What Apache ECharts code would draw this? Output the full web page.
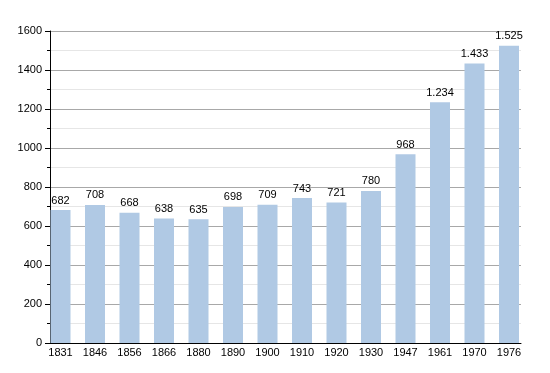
<!DOCTYPE html>
<html>
<head>
<meta charset="utf-8">
<script src="https://cdn.jsdelivr.net/npm/echarts@6/dist/echarts.min.js"></script>
<style>html,body{margin:0;padding:0;background:#fff}#c{width:550px;height:373px}</style>
</head>
<body>
<div id="c"></div>
<script>
var years = ['1831','1846','1856','1866','1880','1890','1900','1910','1920','1930','1947','1961','1970','1976'];
var population = [682,708,668,638,635,698,709,743,721,780,968,1234,1433,1525];

function fmt(v){ return String(v).replace(/\B(?=(\d{3})+(?!\d))/g,'.'); }

var chart = echarts.init(document.getElementById('c'), null, {renderer:'canvas'});
var font = 'Liberation Sans, Arial, sans-serif';
chart.setOption({
  animation:false,
  backgroundColor:'#fff',
  grid:[
    {left:50, right:29, top:31, bottom:30},
    {left:43.25, right:23.75, top:31, bottom:30}
  ],
  xAxis:[
    {type:'category', gridIndex:0, data:years, axisLabel:{show:false}, axisTick:{show:false},
     axisLine:{show:true, lineStyle:{color:'#000', width:1}}, splitLine:{show:false}},
    {type:'category', gridIndex:1, data:years, axisLine:{show:false}, axisTick:{show:false},
     axisLabel:{color:'#000', fontFamily:font, fontSize:11, margin:4}}
  ],
  yAxis:[
    {type:'value', gridIndex:0, min:0, max:1600, interval:200,
     axisLine:{show:true, lineStyle:{color:'#000'}},
     axisTick:{show:true, length:5, lineStyle:{color:'#000'}},
     minorTick:{show:true, splitNumber:2, length:3, lineStyle:{color:'#000'}},
     splitLine:{show:true, lineStyle:{color:'#a8a8a8', width:1}},
     minorSplitLine:{show:true, lineStyle:{color:'#e6e6e6', width:1}},
     axisLabel:{color:'#000', fontFamily:font, fontSize:11, margin:8,
       formatter:function(v){return String(v);}}},
    {type:'value', gridIndex:1, min:0, max:1600, interval:200, show:false, splitLine:{show:false}}
  ],
  series:[{
    type:'bar', xAxisIndex:1, yAxisIndex:1, data:population, barWidth:20,
    itemStyle:{color:'#b0c9e4'},
    label:{show:true, position:'top', distance:4, color:'#000', fontFamily:font, fontSize:11,
      formatter:function(p){return fmt(p.value);}}
  }]
});
</script>
</body>
</html>
